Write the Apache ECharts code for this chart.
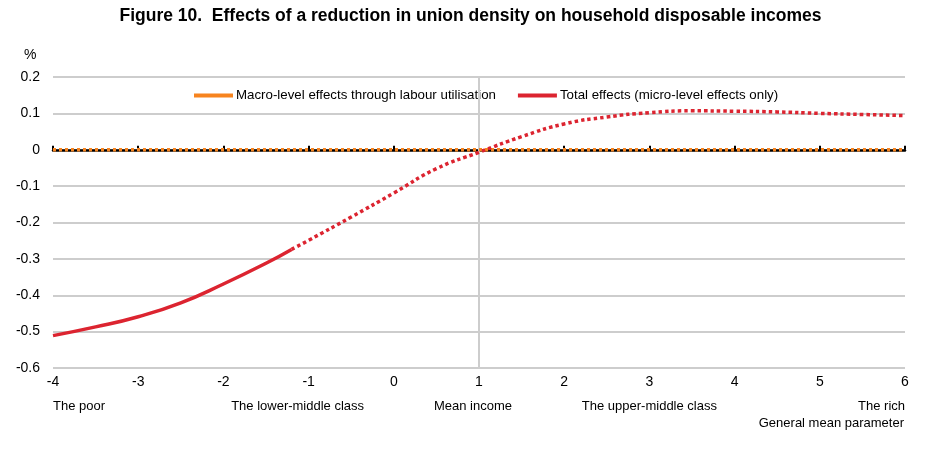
<!DOCTYPE html>
<html>
<head>
<meta charset="utf-8">
<script src="https://cdn.jsdelivr.net/npm/echarts@6/dist/echarts.min.js"></script>
<style>
html, body { margin: 0; padding: 0; background: #fff; }
#chart { width: 941px; height: 462px; }
</style>
</head>
<body>
<div id="chart"></div>
<script>
// general mean parameter ticks
var xTicks = [-4, -3, -2, -1, 0, 1, 2, 3, 4, 5, 6];
// income groups written under some ticks
var groupAt = [-4, -1, 1, 3, 6];
var groupNames = ['The poor', 'The lower-middle class', 'Mean income', 'The upper-middle class', 'The rich'];
var meanIncomeAt = 1;

// total effects, solid part
var solidX = [-4, -3.5, -3, -2.5, -2, -1.5, -1.2];
var solidY = [-0.511, -0.487, -0.459, -0.421, -0.369, -0.312, -0.274];
// total effects, dotted part
var dottedX = [-1.2, -1, -0.5, 0, 0.5, 1, 1.5, 2, 2.5, 3, 3.5, 4, 4.5, 5, 5.5, 6];
var dottedY = [-0.274, -0.249, -0.185, -0.119, -0.052, -0.007, 0.036, 0.071, 0.090, 0.102, 0.107, 0.106, 0.104, 0.100, 0.097, 0.094];
// macro-level effects through labour utilisation
var macroX = [-4, 6];
var macroY = [0, 0];

var orange = '#f7841f';
var red = '#dc2430';
var grey = '#cdcdcd';
var font = "'Liberation Sans', Arial, sans-serif";

function pairs(xs, ys) {
    var out = [];
    for (var i = 0; i < xs.length; i++) out.push([xs[i], ys[i]]);
    return out;
}

var chart = echarts.init(document.getElementById('chart'));

var xMin = xTicks[0];
var xMax = xTicks[xTicks.length - 1];

chart.setOption({
    animation: false,
    title: [
        {
            text: 'Figure 10.  Effects of a reduction in union density on household disposable incomes',
            left: 'center',
            top: 2,
            textStyle: { fontFamily: font, fontSize: 17.5, fontWeight: 'bold', color: '#000' }
        },
        {
            text: '%',
            left: 19,
            top: 43,
            textStyle: { fontFamily: font, fontSize: 14, fontWeight: 'normal', color: '#000' }
        }
    ],
    legend: {
        left: 189,
        top: 84,
        itemWidth: 39,
        itemHeight: 4,
        itemGap: 22,
        icon: 'rect',
        data: ['Macro-level effects through labour utilisation', 'Total effects (micro-level effects only)'],
        textStyle: { fontFamily: font, fontSize: 13.3, color: '#000', padding: [0, 0, 0, -2] }
    },
    grid: { left: 53, right: 36, top: 77, bottom: 94, containLabel: false },
    xAxis: [
        {
            type: 'value', min: xMin, max: xMax, interval: 1, position: 'bottom',
            axisLine: { show: false, onZero: false },
            axisTick: { show: false },
            splitLine: { show: false },
            axisLabel: { margin: 7, fontFamily: font, fontSize: 14, color: '#000' }
        },
        {
            type: 'value', min: xMin, max: xMax, interval: 1, position: 'bottom',
            axisLine: { show: false, onZero: false },
            axisTick: { show: false },
            splitLine: { show: false },
            axisLabel: {
                margin: 32, fontFamily: font, fontSize: 13, color: '#000',
                alignMinLabel: 'left', alignMaxLabel: 'right',
                formatter: function (v) {
                    var i = groupAt.indexOf(v);
                    if (i < 0) return '';
                    if (v === -1) return '{lm|' + groupNames[i] + '}';
                    if (v === 1) return '{mi|' + groupNames[i] + '}';
                    return groupNames[i];
                },
                rich: {
                    lm: { fontFamily: font, fontSize: 13, color: '#000', padding: [0, 22, 0, 0] },
                    mi: { fontFamily: font, fontSize: 13, color: '#000', padding: [0, 12, 0, 0] }
                }
            },
            name: 'General mean parameter',
            nameLocation: 'end',
            nameGap: -1,
            nameTextStyle: { fontFamily: font, fontSize: 13, color: '#000', align: 'right', verticalAlign: 'top', padding: [49, 0, 0, 0] }
        },
        {
            type: 'value', min: xMin, max: xMax, interval: 1, position: 'top',
            axisLine: { show: true, onZero: true, onZeroAxisIndex: 0, lineStyle: { color: '#000', width: 2.5 } },
            axisTick: { show: true, inside: false, length: 4, lineStyle: { color: '#000', width: 2 } },
            splitLine: { show: false },
            axisLabel: { show: false }
        }
    ],
    yAxis: {
        type: 'value', min: -0.6, max: 0.2, interval: 0.1,
        axisLine: { show: false },
        axisTick: { show: false },
        axisLabel: { margin: 13, fontFamily: font, fontSize: 14, color: '#000' },
        splitLine: { lineStyle: { color: grey, width: 2 } }
    },
    series: [
        {
            type: 'line', name: 'mean', data: [], silent: true, z: 1,
            markLine: {
                silent: true, symbol: 'none', label: { show: false },
                lineStyle: { color: grey, width: 2, type: 'solid' },
                data: [{ xAxis: meanIncomeAt }]
            }
        },
        {
            type: 'line', name: 'Macro-level effects through labour utilisation',
            data: pairs(macroX, macroY), showSymbol: false, z: 5,
            itemStyle: { color: orange },
            lineStyle: { color: orange, width: 3.5, type: [3, 3] }
        },
        {
            type: 'line', name: 'Total effects (micro-level effects only)',
            data: pairs(solidX, solidY), smooth: true, showSymbol: false, z: 6,
            itemStyle: { color: red },
            lineStyle: { color: red, width: 3.5 }
        },
        {
            type: 'line', name: 'Total effects (micro-level effects only)',
            data: pairs(dottedX, dottedY), smooth: true, showSymbol: false, z: 6,
            itemStyle: { color: red },
            lineStyle: { color: red, width: 3.5, type: [3.5, 3] }
        }
    ]
});
</script>
</body>
</html>
